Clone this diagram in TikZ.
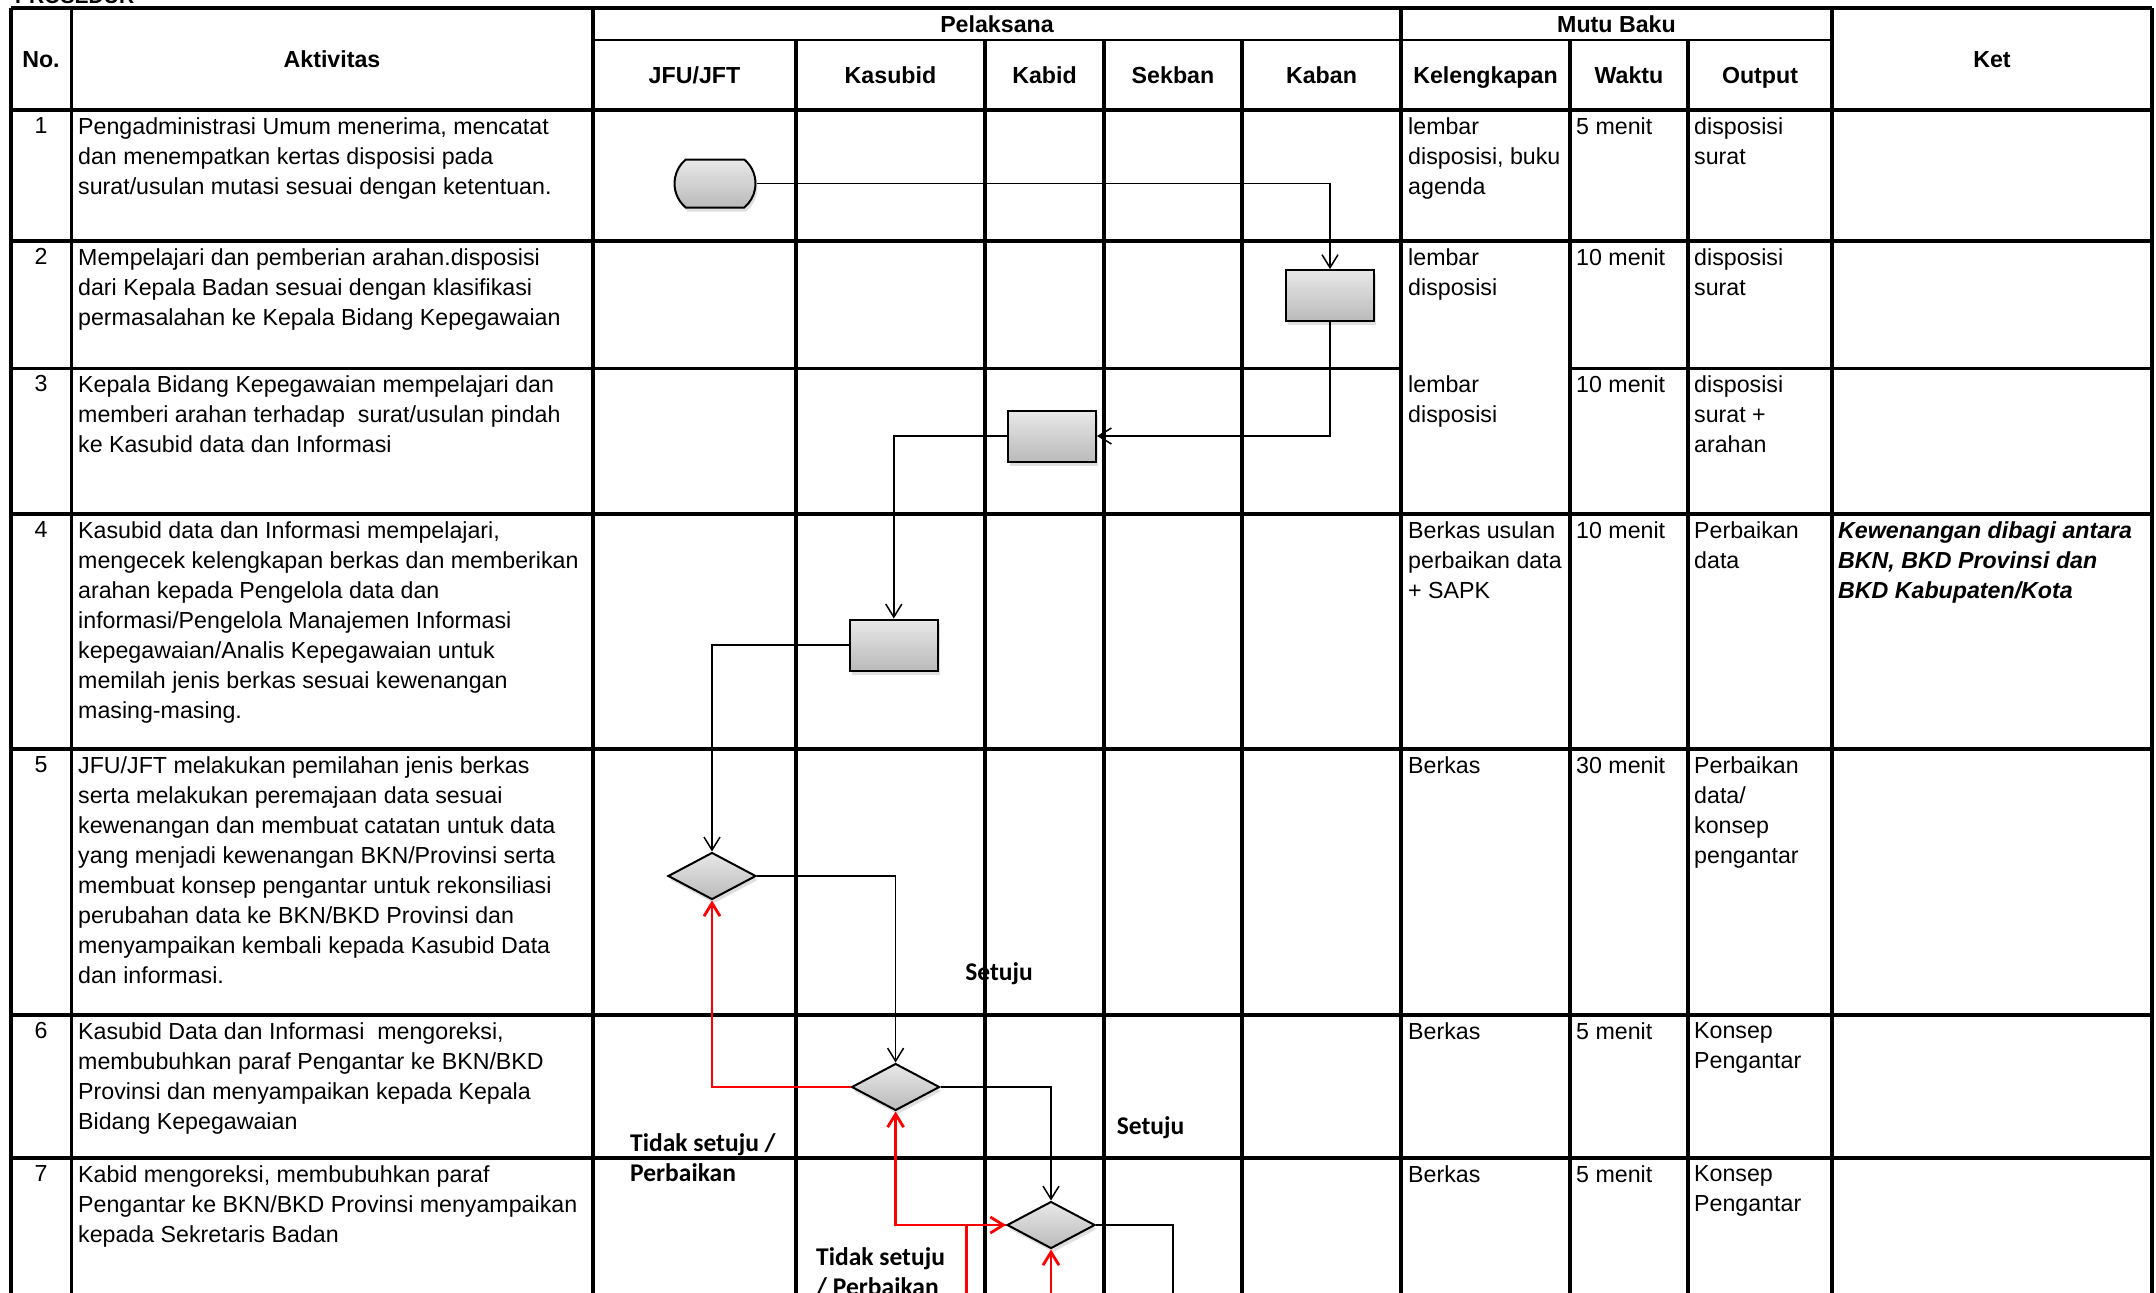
\documentclass[tikz,border=0pt]{standalone}
\usepackage{fontspec}
\setmainfont{Liberation Sans}
\newfontfamily\labelfont{Carlito}
\usepackage{tikz}
\usetikzlibrary{positioning}
\usetikzlibrary{shapes.geometric, shapes.misc, shadows, arrows.meta}

\begin{document}
\begin{tikzpicture}[x=1pt, y=-1pt,
    gridline/.style={line width=3.5pt},
    subline/.style={line width=2pt},
    cellfont/.style={font=\fontsize{23.2}{30}\selectfont},
    celltext/.style={cellfont, anchor=north west, align=left, inner sep=0pt},
    kettext/.style={celltext, font=\fontsize{23.2}{30}\selectfont\bfseries\itshape},
    numtext/.style={cellfont, anchor=north, inner sep=0pt},
    headtext/.style={font=\fontsize{23.2}{30}\selectfont\bfseries, anchor=base, inner sep=0pt},
    choicelabel/.style={font=\labelfont\fontsize{25.5}{30}\selectfont\bfseries, align=left, inner sep=0pt},
    shapefill/.style={draw, line width=2pt, inner sep=0pt, top color=black!9, bottom color=black!27,
                      drop shadow={shadow xshift=2pt, shadow yshift=-4pt, opacity=0.25}},
    termnode/.style={rounded rectangle, rounded rectangle arc length=100, shapefill, minimum width=81pt, minimum height=48pt},
    boxnode/.style={rectangle, shapefill, minimum width=88pt, minimum height=51pt},
    decnode/.style={diamond, shapefill, minimum width=88pt, minimum height=47pt},
    flow/.style={line width=1.5pt, -{Straight Barb[length=13pt, width=16pt]}},
    backflow/.style={flow, red, line width=2.8pt},
  ]
  \useasboundingbox (0,0) rectangle (2156,1293);
  \fill[white] (0,0) rectangle (2156,1293);
  \clip (0,0) rectangle (2156,1293);

  % Title
  \node[font=\fontsize{21}{25}\selectfont\bfseries, anchor=base west, inner sep=0pt] (title) at (15,3) {PROSEDUR};

  % Table grid
  \draw[gridline] (11,8) -- (2152,8);
  \draw[subline] (593,40) -- (1832,40);
  \draw[gridline] (11,110) -- (2152,110);
  \draw[gridline] (11,241) -- (2152,241);
  \draw[gridline] (11,368.5) -- (1401,368.5);
  \draw[gridline] (1570,368.5) -- (2152,368.5);
  \draw[gridline] (11,514) -- (2152,514);
  \draw[gridline] (11,749) -- (2152,749);
  \draw[gridline] (11,1015) -- (2152,1015);
  \draw[gridline] (11,1158) -- (2152,1158);
  \draw[gridline] (11,8) -- (11,1300);
  \draw[gridline] (71.5,8) -- (71.5,1300);
  \draw[gridline] (593,8) -- (593,1300);
  \draw[gridline] (796,40) -- (796,1300);
  \draw[gridline] (985,40) -- (985,1300);
  \draw[gridline] (1104,40) -- (1104,1300);
  \draw[gridline] (1242,40) -- (1242,1300);
  \draw[gridline] (1401,8) -- (1401,1300);
  \draw[gridline] (1570,40) -- (1570,1300);
  \draw[gridline] (1688,40) -- (1688,1300);
  \draw[gridline] (1832,8) -- (1832,1300);
  \draw[gridline] (2152,8) -- (2152,1300);

  % Header
  \node[headtext] (h_no)     at (41,67.4)     {No.};
  \node[headtext] (h_akt)    at (332,67.4)    {Aktivitas};
  \node[headtext] (h_pel)    at (997,32.4)    {Pelaksana};
  \node[headtext] (h_jfu)    at (694.5,83.4)  {JFU/JFT};
  \node[headtext] (h_kasub)  at (890.5,83.4)  {Kasubid};
  \node[headtext] (h_kabid)  at (1044.5,83.4) {Kabid};
  \node[headtext] (h_sekban) at (1173,83.4)   {Sekban};
  \node[headtext] (h_kaban)  at (1321.5,83.4) {Kaban};
  \node[headtext] (h_mutu)   at (1616.5,32.4) {Mutu Baku};
  \node[headtext] (h_kel)    at (1485.5,83.4) {Kelengkapan};
  \node[headtext] (h_wkt)    at (1629,83.4)   {Waktu};
  \node[headtext] (h_out)    at (1760,83.4)   {Output};
  \node[headtext] (h_ket)    at (1992,67.4)   {Ket};

  % Rows
  \node[numtext] (no_1) at (41,117) {1};
  \node[celltext] (akt_1) at (78,117) {Pengadministrasi Umum menerima, mencatat\\dan menempatkan kertas disposisi pada\\surat/usulan mutasi sesuai dengan ketentuan.};
  \node[celltext] (kel_1) at (1408,117) {lembar\\disposisi, buku\\agenda};
  \node[celltext] (wkt_1) at (1576,117) {5 menit};
  \node[celltext] (out_1) at (1694,117) {disposisi\\surat};

  \node[numtext] (no_2) at (41,248) {2};
  \node[celltext] (akt_2) at (78,248) {Mempelajari dan pemberian arahan.disposisi\\dari Kepala Badan sesuai dengan klasifikasi\\permasalahan ke Kepala Bidang Kepegawaian};
  \node[celltext] (kel_2) at (1408,248) {lembar\\disposisi};
  \node[celltext] (wkt_2) at (1576,248) {10 menit};
  \node[celltext] (out_2) at (1694,248) {disposisi\\surat};

  \node[numtext] (no_3) at (41,375.5) {3};
  \node[celltext] (akt_3) at (78,375.5) {Kepala Bidang Kepegawaian mempelajari dan\\memberi arahan terhadap~ surat/usulan pindah\\ke Kasubid data dan Informasi};
  \node[celltext] (kel_3) at (1408,375.5) {lembar\\disposisi};
  \node[celltext] (wkt_3) at (1576,375.5) {10 menit};
  \node[celltext] (out_3) at (1694,375.5) {disposisi\\surat +\\arahan};

  \node[numtext] (no_4) at (41,521) {4};
  \node[celltext] (akt_4) at (78,521) {Kasubid data dan Informasi mempelajari,\\mengecek kelengkapan berkas dan memberikan\\arahan kepada Pengelola data dan\\informasi/Pengelola Manajemen Informasi\\kepegawaian/Analis Kepegawaian untuk\\memilah jenis berkas sesuai kewenangan\\masing-masing.};
  \node[celltext] (kel_4) at (1408,521) {Berkas usulan\\perbaikan data\\+ SAPK};
  \node[celltext] (wkt_4) at (1576,521) {10 menit};
  \node[celltext] (out_4) at (1694,521) {Perbaikan\\data};
  \node[kettext] (ket_4) at (1838,521) {Kewenangan dibagi antara\\BKN, BKD Provinsi dan\\BKD Kabupaten/Kota};

  \node[numtext] (no_5) at (41,756) {5};
  \node[celltext] (akt_5) at (78,756) {JFU/JFT melakukan pemilahan jenis berkas\\serta melakukan peremajaan data sesuai\\kewenangan dan membuat catatan untuk data\\yang menjadi kewenangan BKN/Provinsi serta\\membuat konsep pengantar untuk rekonsiliasi\\perubahan data ke BKN/BKD Provinsi dan\\menyampaikan kembali kepada Kasubid Data\\dan informasi.};
  \node[celltext] (kel_5) at (1408,756) {Berkas};
  \node[celltext] (wkt_5) at (1576,756) {30 menit};
  \node[celltext] (out_5) at (1694,756) {Perbaikan\\data/\\konsep\\pengantar};

  \node[numtext] (no_6) at (41,1022) {6};
  \node[celltext] (akt_6) at (78,1022) {Kasubid Data dan Informasi~ mengoreksi,\\membubuhkan paraf Pengantar ke BKN/BKD\\Provinsi dan menyampaikan kepada Kepala\\Bidang Kepegawaian};
  \node[celltext] (kel_6) at (1408,1022) {Berkas};
  \node[celltext] (wkt_6) at (1576,1022) {5 menit};
  \node[celltext] (out_6) at (1694,1022) {Konsep\\Pengantar};

  \node[numtext] (no_7) at (41,1165) {7};
  \node[celltext] (akt_7) at (78,1165) {Kabid mengoreksi, membubuhkan paraf\\Pengantar ke BKN/BKD Provinsi menyampaikan\\kepada Sekretaris Badan};
  \node[celltext] (kel_7) at (1408,1165) {Berkas};
  \node[celltext] (wkt_7) at (1576,1165) {5 menit};
  \node[celltext] (out_7) at (1694,1165) {Konsep\\Pengantar};

  % Nodes
  \node[termnode] (start_1)       at (715,183.5)  {};
  \node[boxnode]  (kaban_2)       at (1330,295.6) {};
  \node[boxnode]  (kabid_3)       at (1052,436)   {};
  \node[boxnode]  (kasubid_4)     at (893.8,645)  {};
  \node[decnode]  (cek_jfu_5)     at (712,876)    {};
  \node[decnode]  (cek_kasubid_6) at (895.6,1087) {};
  \node[decnode]  (cek_kabid_7)   at (1051,1225)  {};
  \coordinate (from_8_left)  at (966.6,1300);
  \coordinate (from_8_below) at (1051,1300);
  \coordinate (to_8)         at (1173,1300);

  \node[choicelabel, anchor=base]       (setuju_5)  at (999,980)   {Setuju};
  \node[choicelabel, anchor=base]       (setuju_6)  at (1150.5,1134) {Setuju};
  \node[choicelabel, anchor=north west] (tolak_6)   at (630,1133)  {Tidak setuju /\\Perbaikan};
  \node[choicelabel, anchor=north west] (tolak_7)   at (816,1247)  {Tidak setuju\\/ Perbaikan};

  %Lines
  \draw[flow] (start_1.east) -| (kaban_2.north);
  \draw[flow] (kaban_2.south) |- (kabid_3.east);
  \draw[flow] (kabid_3.west) -| (kasubid_4.north);
  \draw[flow] (kasubid_4.west) -| (cek_jfu_5.north);
  \draw[flow] (cek_jfu_5.east) -| (cek_kasubid_6.north);
  \draw[backflow] (cek_kasubid_6.west) -| (cek_jfu_5.south);
  \draw[flow] (cek_kasubid_6.east) -| (cek_kabid_7.north);
  \draw[backflow] (from_8_left) |- (cek_kabid_7.west);
  \draw[backflow] (cek_kabid_7.west) -| (cek_kasubid_6.south);
  \draw[backflow] (from_8_below) -- (cek_kabid_7.south);
  \draw[line width=1.5pt] (cek_kabid_7.east) -| (to_8);
\end{tikzpicture}
\end{document}
